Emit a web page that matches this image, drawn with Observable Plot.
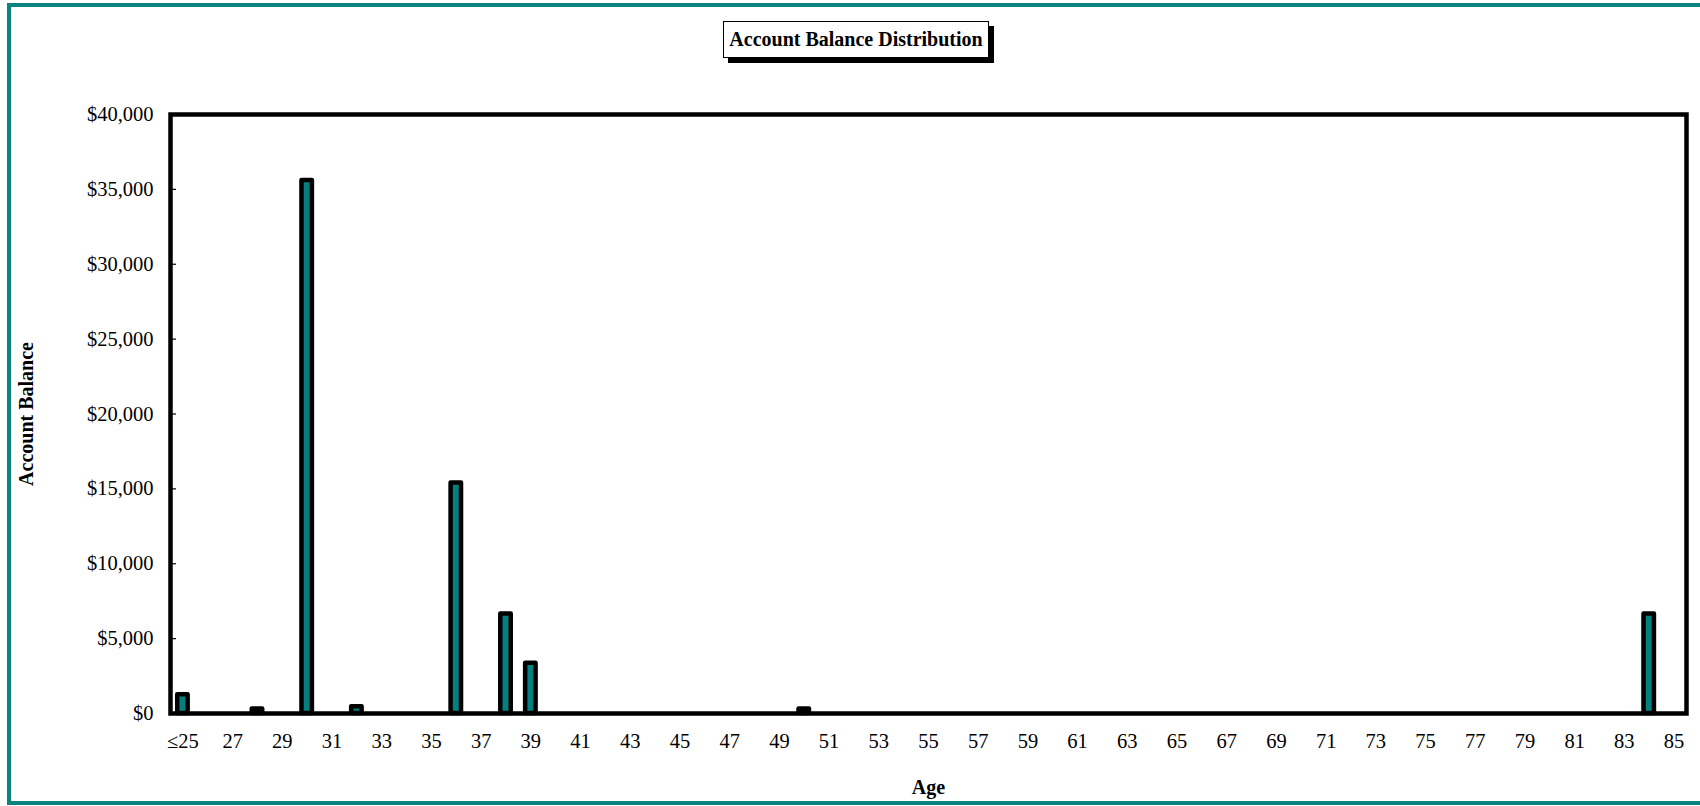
<!DOCTYPE html>
<html>
<head>
<meta charset="utf-8">
<script src="https://cdn.jsdelivr.net/npm/d3@7"></script>
<script src="https://cdn.jsdelivr.net/npm/@observablehq/plot@0.6"></script>
<style>
  html, body { margin: 0; padding: 0; background: #fff; overflow: hidden; }
  #page { position: relative; width: 1700px; height: 806px; overflow: hidden; }
  #edge {
    position: absolute; left: 7px; top: 3px; width: 1720px; height: 794px;
    border: 4.5px solid #0b8380; box-sizing: content-box; pointer-events: none;
  }
  #title {
    position: absolute; left: 723px; top: 21px; width: 264px; height: 35px;
    border: 1px solid #000; background: #fff; box-shadow: 5px 5px 0 #000;
    font: bold 20px "Liberation Serif", "Times New Roman", serif;
    line-height: 35px; text-align: center; color: #000; white-space: nowrap;
  }
  #chart { position: absolute; left: 0; top: 0; }
</style>
</head>
<body>
<div id="page">
  <div id="chart"></div>
  <div id="title">Account Balance Distribution</div>
  <div id="edge"></div>
</div>
<script>
// Age categories along the x axis (youngest bucket is "25 and under")
const categories = [
  "≤25","26","27","28","29","30","31","32","33","34","35","36","37","38","39","40",
  "41","42","43","44","45","46","47","48","49","50","51","52","53","54","55","56",
  "57","58","59","60","61","62","63","64","65","66","67","68","69","70","71","72",
  "73","74","75","76","77","78","79","80","81","82","83","84","85"
];

// Ages that hold a balance, and the balance for each
const ages     = ["≤25", "28", "30",  "32", "36",  "38", "39", "50", "84"];
const balances = [1250,  300,  35600, 450,  15400, 6650, 3350, 300,  6650];

// Labelled ticks: every other age
const xTickLabels = ["≤25","27","29","31","33","35","37","39","41","43","45","47","49","51",
  "53","55","57","59","61","63","65","67","69","71","73","75","77","79","81","83","85"];
const yTicks = [0, 5000, 10000, 15000, 20000, 25000, 30000, 35000, 40000];

const rows = ages.map((age, i) => ({age, balance: balances[i]}));
const fmt = d3.format(",");
const serif = "'Liberation Serif', 'Times New Roman', serif";

const chart = Plot.plot({
  width: 1700,
  height: 806,
  marginLeft: 170,
  marginRight: 14,
  marginTop: 114,
  marginBottom: 93,
  style: {fontFamily: serif, fontSize: "20px", color: "#000", background: "transparent"},
  x: {type: "band", domain: categories, paddingInner: 0.58, paddingOuter: 0.29},
  y: {domain: [0, 40000]},
  marks: [
    // short inward tick marks on the value axis
    Plot.tickY(yTicks, {y: d => d, stroke: "#000", strokeWidth: 1.2, insetRight: 1516 - 6}),
    Plot.axisY({ticks: yTicks, tickSize: 0, tickPadding: 17, fontSize: 20.5,
      tickFormat: d => "$" + fmt(d), label: null}),
    Plot.axisX({ticks: xTickLabels, tickSize: 0, tickPadding: 20, fontSize: 20.5, label: null}),
    Plot.barY(rows, {x: "age", y: "balance", fill: "#048080", stroke: "#000",
      strokeWidth: 4.5, strokeLinejoin: "round"}),
    Plot.frame({stroke: "#000", strokeWidth: 4.5}),
    Plot.text(["Age"], {frameAnchor: "bottom", dy: 80, fontWeight: "bold", fontSize: 20,
      text: d => d}),
    Plot.text(["Account Balance"], {frameAnchor: "left", textAnchor: "middle", dx: -144,
      rotate: -90, fontWeight: "bold", fontSize: 20, text: d => d})
  ]
});

document.getElementById("chart").appendChild(chart);
</script>
</body>
</html>
